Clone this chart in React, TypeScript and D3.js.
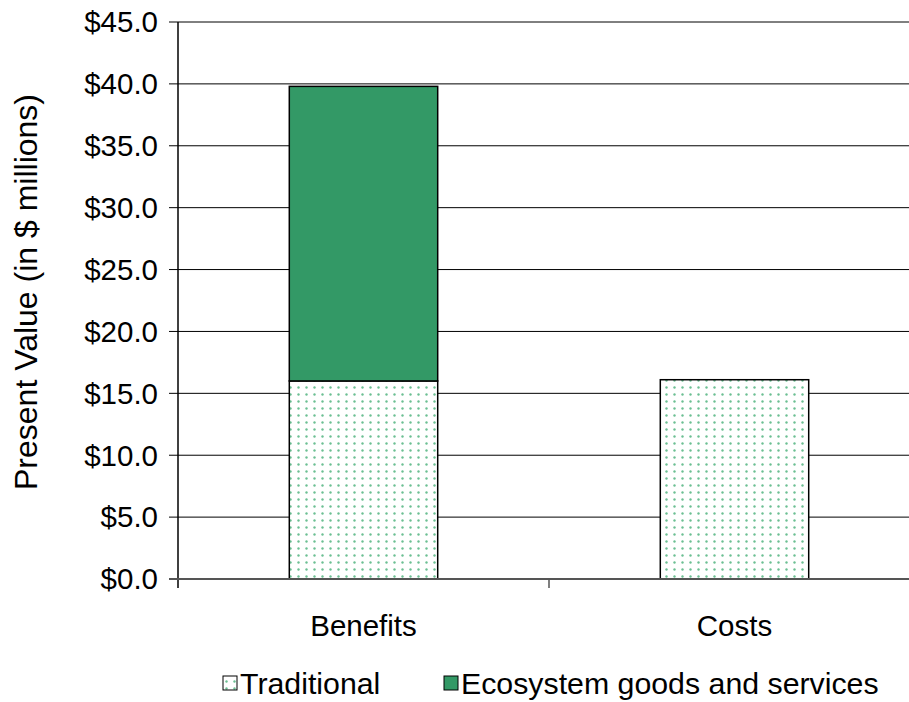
import React from "react";
import * as d3 from "d3";

const categories = ["Benefits", "Costs"];
const traditional = [16.0, 16.1];
const ecosystem = [23.8, 0];
const yTicks = [0, 5, 10, 15, 20, 25, 30, 35, 40, 45];
const seriesNames = ["Traditional", "Ecosystem goods and services"];

const W = 909, H = 702;
const left = 178, top = 22, bottom = 579, right = 920;
const GREEN = "#339966";
const FONT = "Liberation Sans, Arial, sans-serif";

export default function App() {
  const y = d3.scaleLinear().domain([0, 45]).range([bottom, top]);
  const x = d3.scaleBand().domain(categories).range([left, right]).paddingInner(0).paddingOuter(0);
  const bw = x.bandwidth() * 0.4;
  const fmt = (v: number) => "$" + d3.format(".1f")(v);
  return (
    <svg width={W} height={H} style={{ position: "absolute", left: 0, top: 0, background: "#fff" }}>
      <defs>
        <pattern id="dots" width={8} height={7} patternUnits="userSpaceOnUse">
          <rect width={8} height={7} fill="#fff" />
          <circle cx={2.5} cy={2.5} r={1.2} fill="#6cbf93" />
        </pattern>
      </defs>
      {yTicks.map((t) => (
        <g key={t}>
          <line x1={169} x2={right} y1={y(t)} y2={y(t)} stroke="#000" strokeWidth={1} />
          <text x={158} y={y(t)} dy="0.35em" textAnchor="end" fontFamily={FONT} fontSize={29.5}>
            {fmt(t)}
          </text>
        </g>
      ))}
      {categories.map((c, i) => {
        const bx = (x(c) as number) + (x.bandwidth() - bw) / 2;
        return (
          <g key={c}>
            <rect x={bx} y={y(traditional[i])} width={bw} height={bottom - y(traditional[i])} fill="url(#dots)" stroke="#000" strokeWidth={1.5} />
            {ecosystem[i] > 0 && (
              <rect x={bx} y={y(traditional[i] + ecosystem[i])} width={bw} height={y(traditional[i]) - y(traditional[i] + ecosystem[i])} fill={GREEN} stroke="#000" strokeWidth={1.5} />
            )}
            <text x={(x(c) as number) + x.bandwidth() / 2} y={636} textAnchor="middle" fontFamily={FONT} fontSize={29.5}>
              {c}
            </text>
          </g>
        );
      })}
      <line x1={left} x2={left} y1={top} y2={bottom + 9} stroke="#000" strokeWidth={1.5} />
      <line x1={169} x2={right} y1={bottom} y2={bottom} stroke="#555" strokeWidth={2} />
      {categories.slice(1).map((c) => (
        <line key={c} x1={x(c) as number} x2={x(c) as number} y1={bottom} y2={bottom + 9} stroke="#555" strokeWidth={1.5} />
      ))}
      <text transform={`translate(37,292) rotate(-90)`} textAnchor="middle" fontFamily={FONT} fontSize={32}>
        Present Value (in $ millions)
      </text>
      <g>
        <rect x={223} y={676} width={14} height={14} fill="url(#dots)" stroke="#000" strokeWidth={1} />
        <text x={240} y={694} fontFamily={FONT} fontSize={30.3}>{seriesNames[0]}</text>
        <rect x={444} y={676} width={14} height={14} fill={GREEN} stroke="#000" strokeWidth={1} />
        <text x={461} y={694} fontFamily={FONT} fontSize={30.3}>{seriesNames[1]}</text>
      </g>
    </svg>
  );
}
